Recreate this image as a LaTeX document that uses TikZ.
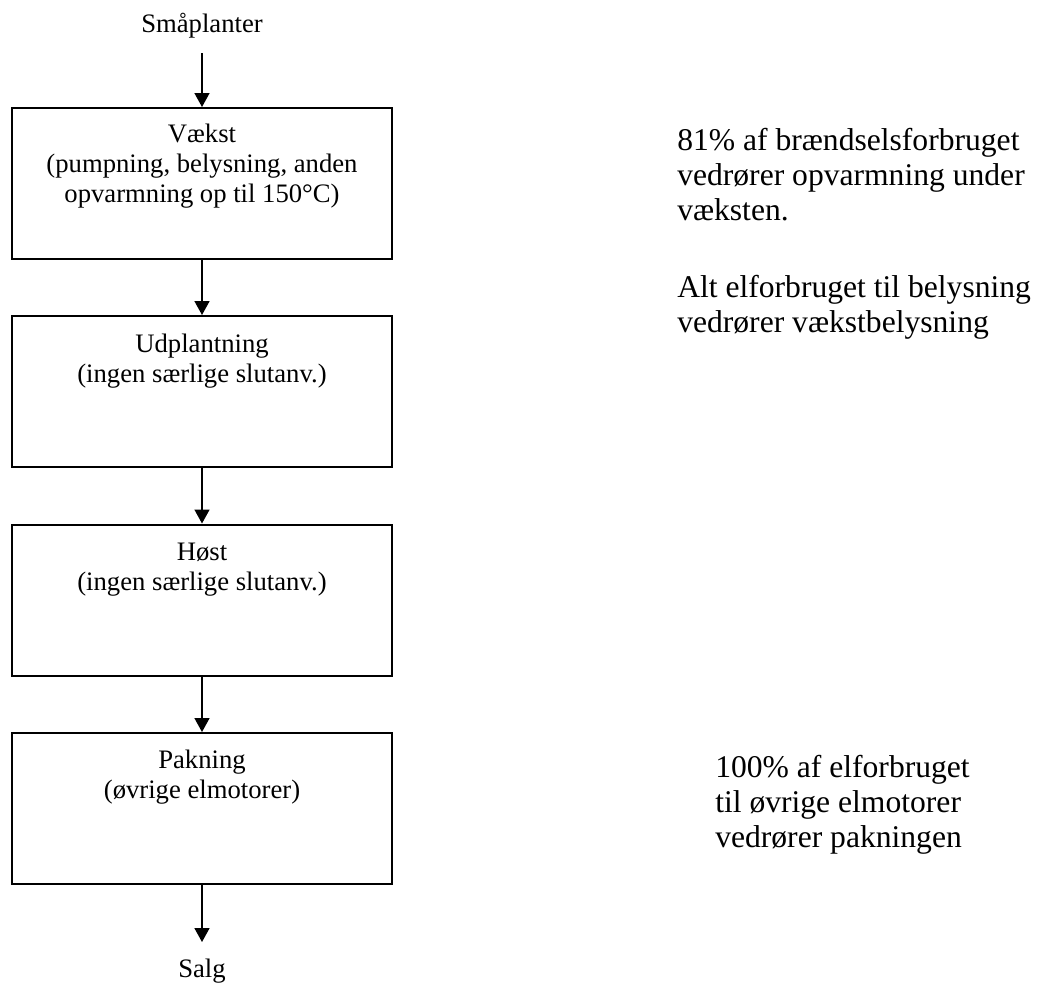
\documentclass[tikz,border=0pt]{standalone}
\usepackage{fontspec}
\setmainfont{Liberation Serif}
\usetikzlibrary{arrows.meta}
\begin{document}
\begin{tikzpicture}[x=0.75pt,y=-0.75pt,
  stage/.style={draw,line width=1.5pt,minimum width=380*0.75pt,minimum height=151*0.75pt,inner sep=0pt},
  stagetext/.style={anchor=base,align=center,inner sep=0pt,font=\fontsize{20pt}{22.5pt}\selectfont},
  note/.style={anchor=base west,align=left,inner sep=0pt,font=\fontsize{23.7pt}{26.25pt}\selectfont},
  endtext/.style={anchor=base,inner sep=0pt,font=\fontsize{20pt}{22.5pt}\selectfont},
  flow/.style={line width=1.2pt,-{Triangle[width=15*0.75pt,length=14*0.75pt]}}]
\useasboundingbox (0,0) rectangle (1042,983);

% process stages
\node[stage] (s1) at (202,183.5) {};
\node[stage] (s2) at (202,391.5) {};
\node[stage] (s3) at (202,600) {};
\node[stage] (s4) at (202,808.5) {};

% stage labels, anchored at the baseline of their last line
\node[stagetext] (t1) at (202,202) {Vækst\\(pumpning, belysning, anden\\opvarmning op til 150°C)};
\node[stagetext] (t2) at (202,382) {Udplantning\\(ingen særlige slutanv.)};
\node[stagetext] (t3) at (202,590.5) {Høst\\(ingen særlige slutanv.)};
\node[stagetext] (t4) at (202,798.5) {Pakning\\(øvrige elmotorer)};

% input and output
\node[endtext] (in) at (202,32) {Småplanter};
\node[endtext] (out) at (202,977) {Salg};
\coordinate (inend) at (202,53);
\coordinate (outend) at (202,942);

\draw[flow] (inend) -- (s1.north);
\draw[flow] (s1.south) -- (s2.north);
\draw[flow] (s2.south) -- (s3.north);
\draw[flow] (s3.south) -- (s4.north);
\draw[flow] (s4.south) -- (outend);

% side notes
\node[note] (n1) at (677,220) {81\% af brændselsforbruget\\vedrører opvarmning under\\væksten.};
\node[note] (n2) at (677,332) {Alt elforbruget til belysning\\vedrører vækstbelysning};
\node[note] (n3) at (715,847) {100\% af elforbruget\\til øvrige elmotorer\\vedrører pakningen};
\end{tikzpicture}
\end{document}
